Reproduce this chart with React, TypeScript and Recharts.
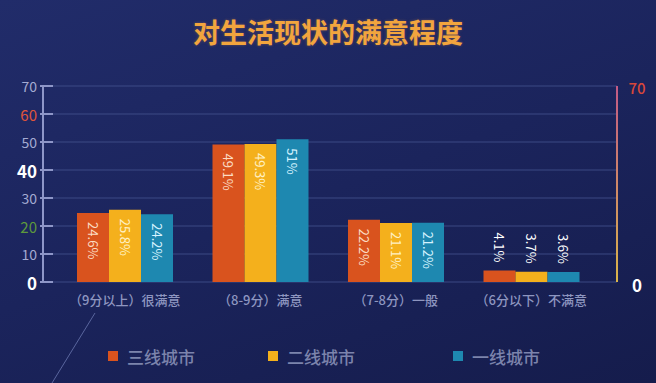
import React from 'react';
import { ComposedChart, Bar, Line, XAxis, YAxis, CartesianGrid, Legend, LabelList } from 'recharts';

const categories = ['（9分以上）很满意', '（8-9分）满意', '（7-8分）一般', '（6分以下）不满意'];
const tier3 = [24.6, 49.1, 22.2, 4.1];
const tier2 = [25.8, 49.3, 21.1, 3.7];
const tier1 = [24.2, 51, 21.2, 3.6];
const leftTicks = [0, 10, 20, 30, 40, 50, 60, 70];
const rightTicks = [0, 70];

const series = [
  { key: 'tier3', name: '三线城市', color: '#d9531e', labelColor: '#fbdcc4' },
  { key: 'tier2', name: '二线城市', color: '#f4b01c', labelColor: '#fff1c4' },
  { key: 'tier1', name: '一线城市', color: '#1e88b0', labelColor: '#d6f3ff' },
];

const data = categories.map((name, i) => ({
  name,
  tier3: tier3[i],
  tier2: tier2[i],
  tier1: tier1[i],
}));

const FONT = '"Noto Sans CJK SC", "Noto Sans", sans-serif';

// left axis tick colours, as in the original poster
const leftTickStyle: Record<number, { fill: string; size: number; weight: number }> = {
  70: { fill: '#a4abd2', size: 14, weight: 400 },
  60: { fill: '#e0553a', size: 15, weight: 400 },
  50: { fill: '#a4abd2', size: 14, weight: 400 },
  40: { fill: '#ffffff', size: 17, weight: 700 },
  30: { fill: '#a4abd2', size: 14, weight: 400 },
  20: { fill: '#5e9a3c', size: 15, weight: 400 },
  10: { fill: '#a4abd2', size: 14, weight: 400 },
  0: { fill: '#ffffff', size: 17, weight: 700 },
};

const LeftTick = (props: any) => {
  const { x, y, payload } = props;
  const s = leftTickStyle[payload.value] || leftTickStyle[10];
  return (
    <g>
      <line x1={x + 3} x2={x + 16} y1={y} y2={y} stroke="#8e96c8" strokeWidth={2} />
      <text x={x} y={y} textAnchor="end" dominantBaseline="central" fill={s.fill}
        fontSize={s.size} fontWeight={s.weight} fontFamily={FONT}>
        {payload.value}
      </text>
    </g>
  );
};

const RightTick = (props: any) => {
  const { x, y, payload } = props;
  const top = payload.value === 70;
  return (
    <text x={x + 12} y={y + (top ? 1 : 2)} textAnchor="middle" dominantBaseline="central"
      fill={top ? '#d9473a' : '#ffffff'} fontSize={top ? 15 : 17} fontWeight={top ? 500 : 700} fontFamily={FONT}>
      {payload.value}
    </text>
  );
};

const CategoryTick = (props: any) => {
  const { x, y, payload } = props;
  return (
    <text x={x} y={y + 15} textAnchor="middle" fill="#8e96c0" fontSize={13} fontWeight={500} fontFamily={FONT}>
      {payload.value}
    </text>
  );
};

const makeLabel = (color: string) => (props: any) => {
  const { x, y, width, value } = props;
  const cx = x + width / 2;
  const small = value < 10;
  const ty = small ? y - 8 : y + 9;
  return (
    <text transform={`translate(${cx},${ty}) rotate(90)`} textAnchor={small ? 'end' : 'start'}
      dominantBaseline="central" fill={small ? '#ffffff' : color} fontSize={13} fontFamily={FONT}>
      {`${value}%`}
    </text>
  );
};

const legendOffsets = [108, 160, 185];

const LegendContent = () => (
  <div style={{ position: 'relative', height: 24, width: 656 }}>
    {series.map((s, i) => {
      const left = legendOffsets.slice(0, i + 1).reduce((a, b) => a + b, 0);
      return (
        <div key={s.key} style={{ position: 'absolute', left, top: 0, height: 24, display: 'flex', alignItems: 'center' }}>
          <span style={{ width: 10, height: 10, background: s.color, display: 'inline-block', marginRight: 9 }} />
          <span style={{ color: '#7c84ac', fontSize: 17, fontWeight: 500, fontFamily: FONT }}>{s.name}</span>
        </div>
      );
    })}
  </div>
);

const App: React.FC = () => {
  return (
    <div style={{
      position: 'fixed', left: 0, top: 0, width: 656, height: 383, overflow: 'hidden',
      background: 'linear-gradient(160deg, #212c6a 0%, #1b245c 50%, #151c4c 100%)', fontFamily: FONT,
    }}>
      <div style={{
        position: 'absolute', left: 0, width: 656, top: 14, textAlign: 'center',
        color: '#f2a53e', fontSize: 27, fontWeight: 700, letterSpacing: 0, lineHeight: '36px',
        textShadow: '0 0 3px rgba(240,150,60,0.35)',
      }}>
        对生活现状的满意程度
      </div>
      <svg width={656} height={383} style={{ position: 'absolute', left: 0, top: 0 }}>
        <line x1={95} y1={313} x2={52} y2={383} stroke="#5a669e" strokeWidth={1} />
      </svg>
      <div style={{ position: 'absolute', left: 0, top: 0 }}>
        <ComposedChart width={656} height={383} data={data} barGap={0} barSize={32}
          margin={{ top: 86, right: 0, left: 0, bottom: 47 }}>
          <defs>
            <linearGradient id="rightAxisGrad" gradientUnits="userSpaceOnUse" x1="0" y1="86" x2="0" y2="282">
              <stop offset="0%" stopColor="#c25a86" />
              <stop offset="100%" stopColor="#d9b44a" />
            </linearGradient>
          </defs>
          <CartesianGrid vertical={false} stroke="#44528f" strokeOpacity={0.8} />
          <XAxis dataKey="name" axisLine={false} tickLine={false} height={30}
            padding={{ left: 14, right: 18 }} tick={<CategoryTick />} interval={0} />
          <YAxis domain={[0, 70]} ticks={leftTicks} width={43} tickLine={false} tickSize={0} tickMargin={6}
            axisLine={{ stroke: '#8e96c8', strokeWidth: 2 }} tick={<LeftTick />} interval={0} />
          <YAxis yAxisId="right" orientation="right" domain={[0, 70]} ticks={rightTicks} width={39}
            tickLine={false} tickSize={0} tickMargin={8} axisLine={{ stroke: 'url(#rightAxisGrad)', strokeWidth: 2 }}
            tick={(p: any) => <RightTick {...p} />} interval={0} />
          <Legend verticalAlign="bottom" content={<LegendContent />}
            wrapperStyle={{ left: 0, top: 344, bottom: 'auto', width: 656 }} />
          {series.map((s) => (
            <Bar key={s.key} dataKey={s.key} name={s.name} fill={s.color} isAnimationActive={false}>
              <LabelList dataKey={s.key} content={makeLabel(s.labelColor)} />
            </Bar>
          ))}
          {/* invisible series so the right axis gets a scale */}
          <Line yAxisId="right" dataKey="tier1" stroke="none" dot={false} activeDot={false}
            legendType="none" isAnimationActive={false} />
        </ComposedChart>
      </div>
    </div>
  );
};

export default App;
